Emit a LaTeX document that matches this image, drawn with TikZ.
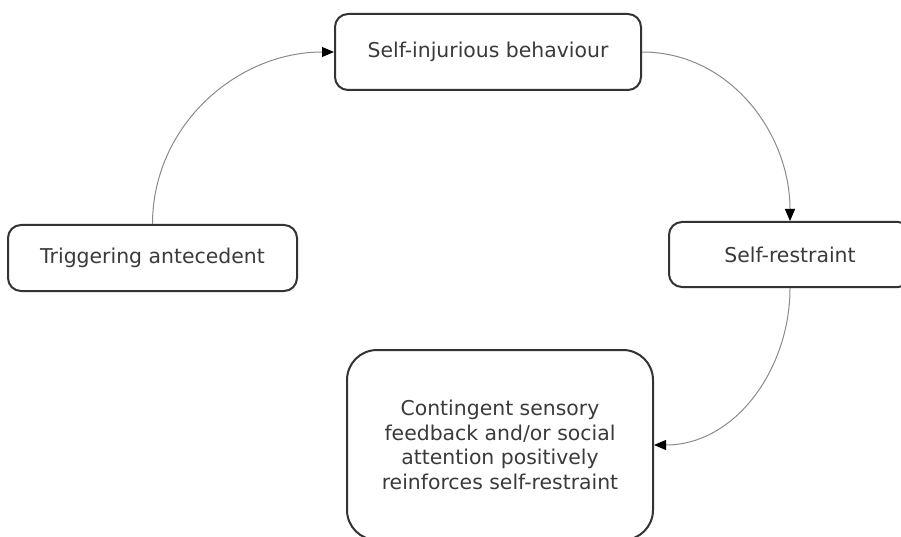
\documentclass[tikz,border=0pt]{standalone}
\usepackage{fontspec}
\setmainfont{DejaVu Sans}
\usepackage{xcolor}
\usetikzlibrary{arrows, arrows.meta}
\usetikzlibrary{calc}

\definecolor{boxline}{HTML}{333333}
\definecolor{boxtext}{HTML}{3A3A3A}
\definecolor{linkline}{HTML}{8A8A8A}

\tikzset{
  stage/.style={draw=boxline, line width=2pt, rounded corners=13pt, text=boxtext, align=center,
    font=\fontsize{20.4}{24.5}\selectfont, inner sep=0pt},
  link/.style={draw=linkline, line width=1pt, -{Triangle[length=12pt,width=10pt,color=black]}}
}

\begin{document}
\begin{tikzpicture}[x=1pt,y=-1pt]
      \useasboundingbox (0,0) rectangle (901,537);
      \clip (0,0) rectangle (901,537);

      \node[stage, minimum width=306pt, minimum height=76pt] (sib) at (488,52) {Self-injurious behaviour};
      \node[stage, minimum width=289pt, minimum height=66pt] (trig) at (152.5,258) {Triggering antecedent};
      \node[stage, minimum width=242pt, minimum height=65pt] (restr) at (790,254.5) {Self-restraint};
      \node[stage, rounded corners=30pt, minimum width=306pt, minimum height=190pt] (cont) at (500,445)
        {Contingent sensory\\feedback and/or social\\attention positively\\reinforces self-restraint};

      \draw[link] (trig.north) to[out=90, in=180] (sib.west);
      \draw[link] (sib.east) to[out=0, in=90] (restr.north);
      \draw[link] (restr.south) to[out=-90, in=0] (cont.east);
\end{tikzpicture}
\end{document}
